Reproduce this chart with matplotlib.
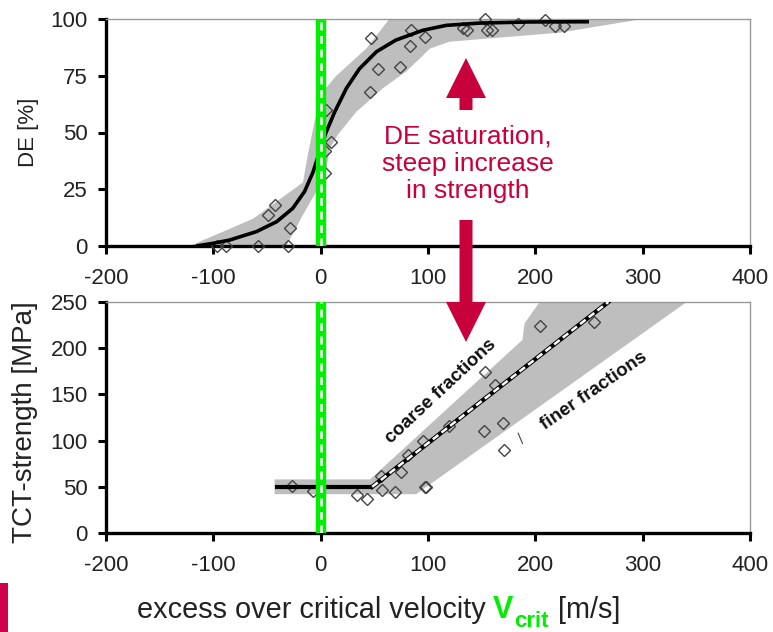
import matplotlib
matplotlib.use("Agg")
import matplotlib.pyplot as plt
from matplotlib.patches import FancyArrow, Rectangle

plt.rcParams["font.family"] = ["Liberation Sans", "DejaVu Sans"]
plt.rcParams["axes.unicode_minus"] = False

# ---- data ----
x_ticks = [-200, -100, 0, 100, 200, 300, 400]
de_ticks = [0, 25, 50, 75, 100]
tct_ticks = [0, 50, 100, 150, 200, 250]

# top panel: deposition efficiency
de_x = [-97, -88, -58, -30, -49, -43, -29, 5, 10, 4, 4, 46, 53, 47, 74, 83,
        84.5, 97, 133, 136, 153, 155, 160, 184, 209, 218, 227]
de_y = [0, 0, 0, 0, 13.7, 18, 7.8, 60, 46, 42, 32, 68, 78, 91.5, 79, 88,
        95, 92, 96, 95, 100, 95, 95, 98, 99.5, 97, 97]

de_fit_x = [-116, -100, -85, -60, -41, -26, -15, -7, -1, 5, 13, 24, 36, 52,
            70, 95, 117, 148, 195, 250]
de_fit_y = [0, 1.2, 2.6, 6.3, 10.7, 16.6, 24, 32.7, 41.5, 50, 59, 69.5, 78,
            85.6, 90.7, 95, 97.2, 98.2, 98.7, 98.8]

de_band_upper_x = [-122, -63, -16.5, -12, -5.6, 2, 14.6, 42.6, 64, 300]
de_band_upper_y = [0, 12, 28, 40, 55, 68, 75, 87, 100, 100]
de_band_lower_x = [-32, -16.5, -4, 5, 8.4, 16, 33, 58, 80, 102, 120, 223, 300]
de_band_lower_y = [0, 13.7, 24, 32.7, 43, 49, 59, 69.5, 77, 87, 90, 94, 100]

# bottom panel: TCT strength
tct_x = [-27, -7, 34, 43, 56, 57, 69, 75, 81, 95, 97, 98, 120, 152, 170, 171,
         153, 162, 204, 255]
tct_y = [51, 45, 41, 37, 62, 47, 44, 66, 84, 100, 50, 50, 116, 110, 119, 90,
         174, 160, 224, 228]

flat_x = [-43, 48]
flat_y = [50, 50]
coarse_x = [48, 268]
coarse_y = [50, 250]

tct_band_x = [-43, 89, 341, 204, 190, 188, 46, -43]
tct_band_y = [42, 42, 250, 250, 227, 209, 58, 58]

CRIMSON = "#C8003C"
GREEN = "#00EE00"
BAND = "#BEBEBE"
TEXT = "#222222"
W, H = 773, 632


def style_axes(ax, yticks):
    ax.set_xlim(-200, 400)
    ax.set_xticks(x_ticks)
    ax.set_yticks(yticks)
    ax.set_ylim(yticks[0], yticks[-1])
    for side in ("left", "bottom"):
        ax.spines[side].set_linewidth(2.4)
        ax.spines[side].set_color("black")
    for side in ("top", "right"):
        ax.spines[side].set_linewidth(1.0)
        ax.spines[side].set_color("#999999")
    ax.tick_params(direction="out", length=6, width=2.2, labelsize=16,
                   labelcolor=TEXT, pad=7)
    ax.tick_params(axis="x", pad=10)


def vcrit_line(ax):
    ax.axvline(0, color=GREEN, lw=7.5, zorder=6)
    ax.axvline(0, color="white", lw=1.8, ls=(0, (3.2, 2.2)), zorder=7)


fig = plt.figure(figsize=(W / 100, H / 100), dpi=100)
ax1 = fig.add_axes([106 / W, 1 - 246 / H, 644 / W, 227 / H])
ax2 = fig.add_axes([106 / W, 1 - 533 / H, 644 / W, 231 / H])

# top panel
ax1.fill(de_band_upper_x + de_band_lower_x[::-1],
         de_band_upper_y + de_band_lower_y[::-1],
         color=BAND, lw=0, zorder=1)
ax1.plot(de_x, de_y, ls="none", marker="D", ms=6.5, mfc="none",
         mec="#444444", mew=1.0, zorder=3, clip_on=False)
ax1.plot(de_fit_x, de_fit_y, color="black", lw=2.6, zorder=4,
         solid_capstyle="butt", solid_joinstyle="round")
vcrit_line(ax1)
style_axes(ax1, de_ticks)
ax1.set_ylabel("DE [%]", fontsize=16, color=TEXT)
ax1.yaxis.set_label_coords(-0.104, 0.5)

# bottom panel
ax2.fill(tct_band_x, tct_band_y, color=BAND, lw=0, zorder=1)
ax2.plot(tct_x, tct_y, ls="none", marker="D", ms=6.5, mfc="none",
         mec="#444444", mew=1.0, zorder=3)
ax2.plot(flat_x, flat_y, color="black", lw=3, zorder=4, solid_capstyle="butt")
ax2.plot(coarse_x, coarse_y, color="black", lw=3.2, zorder=4)
ax2.plot(coarse_x, coarse_y, color="white", lw=1.8, ls=(0, (2.8, 1.6)), zorder=5)
ax2.plot([184, 188], [108, 97], color="#444444", lw=0.8, zorder=3)
vcrit_line(ax2)
style_axes(ax2, tct_ticks)
ax2.set_ylabel("TCT-strength [MPa]", fontsize=20, color=TEXT)
ax2.yaxis.set_label_coords(-0.106, 0.48)

ax2.text(112, 153, "coarse fractions", rotation=43, rotation_mode="anchor",
         ha="center", va="center", fontsize=13.5, fontweight="bold",
         color="#111111", zorder=8)
ax2.text(255, 154, "finer fractions", rotation=34.5, rotation_mode="anchor",
         ha="center", va="center", fontsize=13.5, fontweight="bold",
         color="#111111", zorder=8)

# overlay in pixel coordinates for arrows and annotation text
ov = fig.add_axes([0, 0, 1, 1], zorder=10)
ov.set_xlim(0, W)
ov.set_ylim(H, 0)
ov.axis("off")
ov.patch.set_alpha(0)

ov.add_patch(FancyArrow(466, 110, 0, -52, width=13, head_width=40,
                        head_length=40, length_includes_head=True,
                        color=CRIMSON, lw=0))
ov.add_patch(FancyArrow(466, 220, 0, 122, width=13, head_width=40,
                        head_length=40, length_includes_head=True,
                        color=CRIMSON, lw=0))
ov.text(468, 164, "DE saturation,\nsteep increase\nin strength",
        ha="center", va="center", fontsize=19, color=CRIMSON,
        linespacing=1.18)
ov.add_patch(Rectangle((0, 583), 8, 49, color="#D0004C", lw=0))

# x label built from pieces so V_crit can be green and bold
renderer = fig.canvas.get_renderer()
base_y = 618
t1 = ov.text(137, base_y, "excess over critical velocity", fontsize=20.8,
             color=TEXT, va="baseline", ha="left")
x_end = t1.get_window_extent(renderer).x1
t2 = ov.text(x_end + 7, base_y, "V", fontsize=22, fontweight="bold",
             color=GREEN, va="baseline", ha="left")
x_end = t2.get_window_extent(renderer).x1
t3 = ov.text(x_end + 1, base_y + 9, "crit", fontsize=16, fontweight="bold",
             color=GREEN, va="baseline", ha="left")
x_end = t3.get_window_extent(renderer).x1
ov.text(x_end + 9, base_y, "[m/s]", fontsize=20.8, color=TEXT,
        va="baseline", ha="left")

fig.savefig("out.png", dpi=100)
